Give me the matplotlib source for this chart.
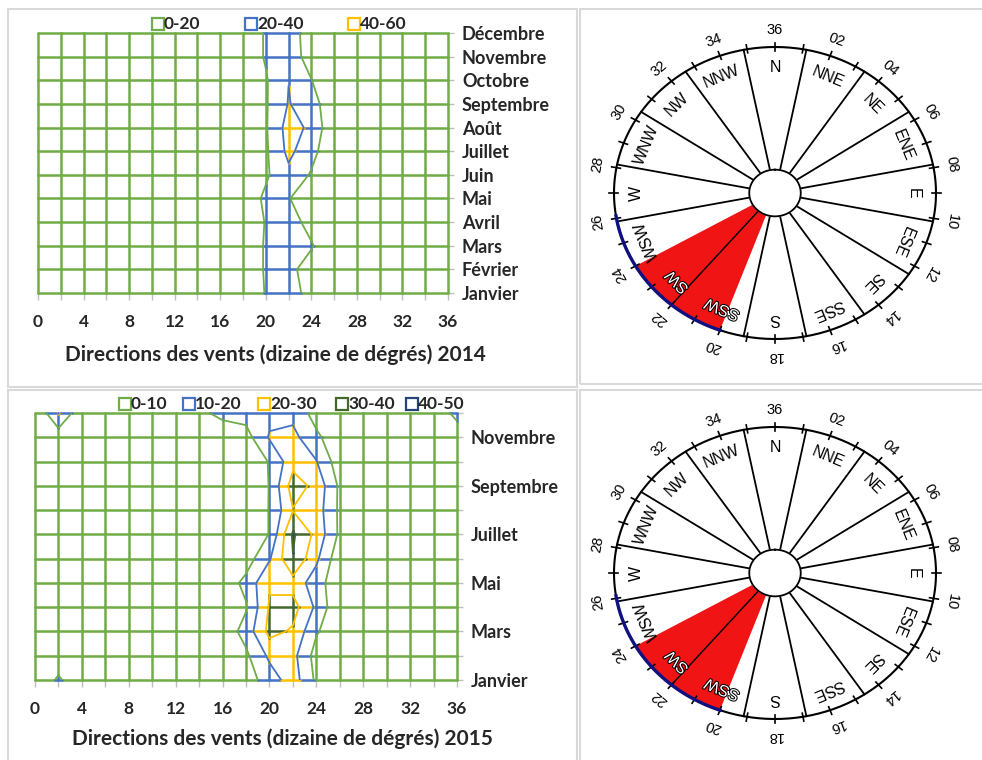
import numpy as np
import matplotlib
matplotlib.use("Agg")
import matplotlib.pyplot as plt
from matplotlib.collections import LineCollection
from matplotlib.lines import Line2D
from matplotlib.patches import Rectangle
import matplotlib.patheffects as pe

# ---------------- data ----------------
directions = [0, 2, 4, 6, 8, 10, 12, 14, 16, 18, 20, 22, 24, 26, 28, 30, 32, 34, 36]
months = ["Janvier", "Février", "Mars", "Avril", "Mai", "Juin", "Juillet",
          "Août", "Septembre", "Octobre", "Novembre", "Décembre"]
months_2015_labels = ["Janvier", "", "Mars", "", "Mai", "", "Juillet", "",
                      "Septembre", "", "Novembre", ""]
xtick_labels = ["0", "4", "8", "12", "16", "20", "24", "28", "32", "36"]

# frequency per month (rows Jan..Dec) and direction (columns, tens of degrees)
freq_2014 = [
    [2, 2, 2, 2, 2, 2, 3, 3, 4, 5, 21, 30, 12, 3, 2, 2, 2, 2, 2],
    [2, 2, 2, 2, 2, 2, 3, 3, 4, 5, 22, 26, 10, 3, 2, 2, 2, 2, 2],
    [2, 2, 2, 2, 2, 2, 3, 3, 4, 5, 22, 32, 22, 3, 2, 2, 2, 2, 2],
    [2, 2, 2, 2, 2, 2, 3, 3, 4, 5, 21, 30, 12, 3, 2, 2, 2, 2, 2],
    [2, 2, 2, 2, 2, 2, 3, 3, 4, 6, 24, 21, 8, 3, 2, 2, 2, 2, 2],
    [2, 2, 2, 2, 2, 2, 3, 3, 4, 5, 17, 35, 18, 3, 2, 2, 2, 2, 2],
    [2, 2, 2, 2, 2, 2, 3, 3, 4, 5, 17, 45, 27, 3, 2, 2, 2, 2, 2],
    [2, 2, 2, 2, 2, 2, 3, 3, 4, 5, 18, 48, 36, 3, 2, 2, 2, 2, 2],
    [2, 2, 2, 2, 2, 2, 3, 3, 4, 5, 18, 41, 30, 3, 2, 2, 2, 2, 2],
    [2, 2, 2, 2, 2, 2, 3, 3, 4, 5, 18, 39.7, 20.5, 3, 2, 2, 2, 2, 2],
    [2, 2, 2, 2, 2, 2, 3, 3, 4, 5, 22, 30, 12, 3, 2, 2, 2, 2, 2],
    [2, 2, 2, 2, 2, 2, 3, 3, 4, 5, 22, 28, 12, 3, 2, 2, 2, 2, 2],
]
freq_2015 = [
    [2, 11.5, 2, 1, 1, 1, 1, 2, 3, 5, 15, 25, 8, 3, 2, 1, 1, 1, 1],
    [1, 4, 2, 1, 1, 1, 1, 2, 3, 8, 22, 23, 6, 3, 2, 1, 1, 1, 1],
    [1, 2, 1, 1, 1, 1, 1, 2, 3, 14, 33, 28.7, 11, 3, 2, 1, 1, 1, 1],
    [1, 1, 1, 1, 1, 1, 1, 2, 3, 9, 31, 34, 18, 1, 1, 1, 1, 1, 1],
    [1, 1, 1, 1, 1, 1, 1, 2, 3, 13, 29, 26, 15, 2, 1, 1, 1, 1, 1],
    [1, 1, 1, 1, 1, 1, 1, 1, 2, 5, 19, 39.5, 22, 3, 1, 1, 1, 1, 1],
    [1, 1, 1, 1, 1, 1, 1, 1, 2, 4, 10.3, 41.5, 27, 8, 2, 1, 1, 1, 1],
    [1, 1, 1, 1, 1, 1, 1, 1, 2, 4, 10.3, 29.5, 25, 8, 2, 1, 1, 1, 1],
    [1, 1, 1, 1, 1, 1, 1, 1, 2, 5, 10.2, 35, 27, 8, 2, 1, 1, 1, 2],
    [1, 1, 1, 1, 1, 1, 1, 2, 3, 4, 10.5, 26.5, 20.5, 4, 2, 1, 1, 1, 2],
    [1, 3.7, 1, 1, 1, 1, 2, 3, 4, 6, 21, 23, 12, 3, 1, 1, 1, 2, 4],
    [0, 20.5, 2, 1, 1, 1, 4, 8, 12.5, 14, 17, 17, 6, 3, 1, 1, 1, 3, 13],
]
bands_2014 = [0, 20, 40, 60]
band_labels_2014 = ["0-20", "20-40", "40-60"]
bands_2015 = [0, 10, 20, 30, 40, 50]
band_labels_2015 = ["0-10", "10-20", "20-30", "30-40", "40-50"]

rose_sectors = ["N", "NNE", "NE", "ENE", "E", "ESE", "SE", "SSE",
                "S", "SSW", "SW", "WSW", "W", "WNW", "NW", "NNW"]
rose_numbers = ["36", "02", "04", "06", "08", "10", "12", "14", "16",
                "18", "20", "22", "24", "26", "28", "30", "32", "34"]
dominant_range = [20, 24]        # tens of degrees (red wedge)
dominant_split = 22

# ---------------- style ----------------
GREEN = "#70AD47"
BLUE = "#4472C4"
YELLOW = "#FFC000"
DKGREEN = "#43682B"
NAVY = "#264478"
colors_2014 = [GREEN, BLUE, YELLOW]
colors_2015 = [GREEN, BLUE, YELLOW, DKGREEN, NAVY]
TXT = "#262626"
FONT = "Lato"

W, H = 982, 760
fig = plt.figure(figsize=(W / 100, H / 100), dpi=100)


def fx(px):
    return px / W


def fy(py):
    return 1 - py / H


# panel borders
for (x0, y0, x1, y1) in [(8, 9, 577, 387), (8, 390, 577, 800),
                         (580, 9, 990, 384), (580, 390, 990, 800)]:
    fig.add_artist(Rectangle((fx(x0), fy(y1)), fx(x1) - fx(x0), fy(y0) - fy(y1),
                             transform=fig.transFigure, fill=False,
                             edgecolor="#d9d9d9", lw=1.5))


def contour_panel(rect, Z, bounds, band_colors, ylabels, legend_y, legend_x,
                  legend_labels, title, title_xy):
    ax = fig.add_axes(rect)
    Z = np.array(Z, dtype=float)
    xs = np.array(directions, dtype=float)
    ys = np.arange(len(months), dtype=float)
    per_band = [[] for _ in band_colors]

    def add_line(p0, p1, z0, z1):
        p0 = np.array(p0); p1 = np.array(p1)
        ts = [0.0, 1.0]
        for L in bounds[1:-1]:
            if (z0 - L) * (z1 - L) < 0:
                ts.append((L - z0) / (z1 - z0))
        ts.sort()
        for a, b in zip(ts[:-1], ts[1:]):
            zm = z0 + (a + b) / 2 * (z1 - z0)
            k = int(np.clip(np.searchsorted(bounds, zm) - 1, 0, len(band_colors) - 1))
            per_band[k].append([p0 + a * (p1 - p0), p0 + b * (p1 - p0)])

    for j in range(len(ys)):
        for i in range(len(xs) - 1):
            add_line((xs[i], ys[j]), (xs[i + 1], ys[j]), Z[j, i], Z[j, i + 1])
    for i in range(len(xs)):
        for j in range(len(ys) - 1):
            add_line((xs[i], ys[j]), (xs[i], ys[j + 1]), Z[j, i], Z[j + 1, i])
    for k, segs in enumerate(per_band):
        if segs:
            lc = LineCollection(segs, colors=band_colors[k], linewidths=1.8,
                                capstyle="round", zorder=2 + k, clip_on=False)
            ax.add_collection(lc)
    cs = ax.contour(xs, ys, Z, levels=bounds[1:-1],
                    colors=band_colors[:len(bounds) - 2], linewidths=1.3, zorder=10)
    cs.set_clip_on(False)

    ax.set_xlim(0, 36)
    ax.set_ylim(0, 11)
    for s in ax.spines.values():
        s.set_visible(False)
    ax.set_xticks(directions)
    ax.set_xticklabels([str(d) if d % 4 == 0 else "" for d in directions])
    ax.yaxis.tick_right()
    ax.set_yticks(ys)
    ax.set_yticklabels(ylabels)
    ax.tick_params(axis="x", length=5, width=1, color="#bfbfbf", pad=10,
                   labelsize=12.5, labelcolor=TXT)
    ax.tick_params(axis="y", length=4, width=1, color="#bfbfbf", pad=6,
                   labelsize=13, labelcolor=TXT)
    for t in ax.get_xticklabels() + ax.get_yticklabels():
        t.set_fontfamily(FONT)
        t.set_fontweight("bold")

    # legend
    for lx, lab, col in zip(legend_x, legend_labels, band_colors):
        fig.add_artist(Line2D([fx(lx)], [fy(legend_y)], marker="s", ms=8,
                              mfc="none", mec=col, mew=1.6, ls="none",
                              transform=fig.transFigure))
        fig.text(fx(lx + 6), fy(legend_y), lab, ha="left", va="center",
                 fontsize=12.5, fontweight="bold", fontfamily=FONT, color=TXT)
    fig.text(fx(title_xy[0]), fy(title_xy[1]), title, ha="center", va="center",
             fontsize=15, fontweight="bold", fontfamily=FONT, color=TXT)
    return ax


contour_panel([fx(38), fy(293), fx(448) - fx(38), fy(33) - fy(293)],
              freq_2014, bands_2014, colors_2014, months, 24,
              [158, 251, 354], band_labels_2014,
              "Directions des vents (dizaine de dégrés) 2014", (275, 355))
contour_panel([fx(35), fy(680), fx(457) - fx(35), fy(413) - fy(680)],
              freq_2015, bands_2015, colors_2015, months_2015_labels, 404,
              [125, 189, 264, 342, 412], band_labels_2015,
              "Directions des vents (dizaine de dégrés) 2015", (282, 739))


def rose(cx, cy, rx, ry):
    k = 1.35
    ax = fig.add_axes([fx(cx - k * rx), fy(cy + k * ry), 2 * k * rx / W, 2 * k * ry / H])
    ax.set_xlim(-k, k)
    ax.set_ylim(-k, k)
    ax.axis("off")

    def pt(theta, r):
        th = np.radians(theta)
        return r * np.sin(th), r * np.cos(th)

    r_in = 0.16
    # sector boundaries
    for i in range(len(rose_sectors)):
        a = 11.25 + 22.5 * i
        x0, y0 = pt(a, r_in)
        x1, y1 = pt(a, 1.0)
        ax.plot([x0, x1], [y0, y1], color="black", lw=1.3, zorder=1)
    # dominant wedge
    th = np.linspace(dominant_range[0] * 10, dominant_range[1] * 10, 60)
    ox, oy = pt(th, 1.0)
    ix, iy = pt(th[::-1], r_in)
    ax.fill(np.concatenate([ox, ix]), np.concatenate([oy, iy]),
            color="#F01414", lw=0, zorder=2)
    x0, y0 = pt(dominant_split * 10, r_in)
    x1, y1 = pt(dominant_split * 10, 1.0)
    ax.plot([x0, x1], [y0, y1], color="black", lw=1.0, zorder=3)
    # outer circle
    t = np.linspace(0, 360, 400)
    cxs, cys = pt(t, 1.0)
    ax.plot(cxs, cys, color="black", lw=1.5, zorder=4)
    t2 = np.linspace(200, 261, 80)
    bx, by = pt(t2, 1.0)
    ax.plot(bx, by, color="#101080", lw=2.4, zorder=5)
    # inner circle
    ixs, iys = pt(t, r_in)
    ax.fill(ixs, iys, color="white", zorder=6)
    ax.plot(ixs, iys, color="black", lw=1.3, zorder=7)
    # ticks every 10 degrees
    for a in range(0, 360, 10):
        x0, y0 = pt(a, 0.975)
        x1, y1 = pt(a, 1.03)
        ax.plot([x0, x1], [y0, y1], color="black", lw=1.2, zorder=4)
    # number labels
    for i, lab in enumerate(rose_numbers):
        a = 20 * i
        x, y = pt(a, 1.115)
        ax.text(x, y, lab, rotation=-a, rotation_mode="anchor", ha="center",
                va="center", fontsize=10.5, fontfamily="Liberation Sans", color="black")
    # sector labels
    for i, lab in enumerate(rose_sectors):
        a = 22.5 * i
        x, y = pt(a, 0.86)
        on_red = dominant_range[0] * 10 < a < dominant_range[1] * 10
        ax.text(x, y, lab, rotation=-a, rotation_mode="anchor", ha="center",
                va="center", fontsize=11.5, fontfamily="Liberation Sans",
                color="white" if on_red else "black", zorder=8,
                path_effects=[pe.withStroke(linewidth=1.5, foreground="black")] if on_red else None)


rose(775, 193, 161, 146)
rose(775, 573, 161, 146)

fig.savefig("out.png", dpi=100)
